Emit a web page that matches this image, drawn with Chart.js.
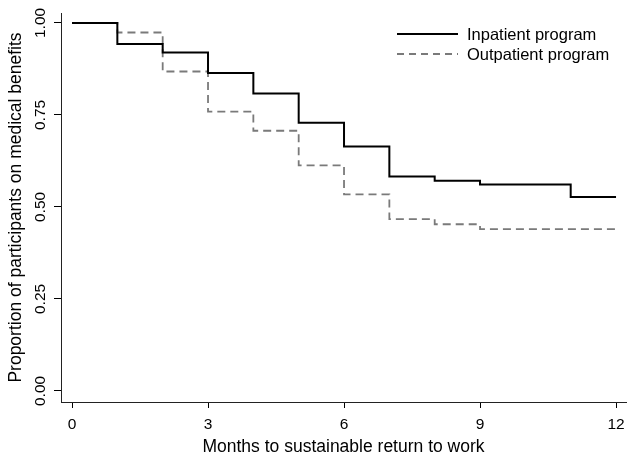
<!DOCTYPE html>
<html><head><meta charset="utf-8">
<script src="https://cdn.jsdelivr.net/npm/chart.js@4/dist/chart.umd.min.js"></script>
<style>html,body{margin:0;padding:0;background:#fff;}#wrap{width:627px;height:460px;}</style>
</head><body><div id="wrap"><canvas id="c" width="627" height="460"></canvas></div>
<script>
// ---- data ----
const inMonths   = [0, 1, 2, 3, 4, 5, 6, 7, 8, 9, 11, 12];
const inpatient  = [1.000, 0.943, 0.920, 0.864, 0.808, 0.729, 0.664, 0.583, 0.571, 0.561, 0.527, 0.527];
const outMonths  = [0, 1, 2, 3, 4, 5, 6, 7, 8, 9, 12];
const outpatient = [1.000, 0.974, 0.868, 0.759, 0.707, 0.613, 0.534, 0.467, 0.453, 0.440, 0.440];
const seriesLabels = ['Inpatient program', 'Outpatient program'];
const xTicks = [0, 3, 6, 9, 12];
const yTicks = [0, 0.25, 0.5, 0.75, 1];
const xTitle = 'Months to sustainable return to work';
const yTitle = 'Proportion of participants on medical benefits';

const FONT = '"Liberation Sans", Arial, Helvetica, sans-serif';
Chart.defaults.font.family = FONT;
Chart.defaults.color = '#000';

const toPts = (xs, ys) => xs.map((x, i) => ({x: x, y: ys[i]}));

const insideLegend = {
  id: 'insideLegend',
  afterDraw(chart) {
    const ctx = chart.ctx;
    chart.data.datasets.forEach((ds, i) => {
      const y = 34 + i * 20;
      ctx.save();
      ctx.strokeStyle = ds.borderColor;
      ctx.lineWidth = ds.borderWidth;
      ctx.setLineDash(ds.legendDash || []);
      ctx.beginPath();
      ctx.moveTo(397, y);
      ctx.lineTo(458, y);
      ctx.stroke();
      ctx.setLineDash([]);
      ctx.fillStyle = '#000';
      ctx.font = '16.5px ' + FONT;
      ctx.textBaseline = 'middle';
      ctx.textAlign = 'left';
      ctx.fillText(ds.label, 467, y + 1);
      ctx.restore();
    });
  }
};

new Chart(document.getElementById('c'), {
  type: 'line',
  data: {
    datasets: [
      {label: seriesLabels[0], data: toPts(inMonths, inpatient), stepped: 'before',
       borderColor: '#000', borderWidth: 2, pointRadius: 0, fill: false, borderCapStyle: 'butt'},
      {label: seriesLabels[1], data: toPts(outMonths, outpatient), stepped: 'before',
       borderColor: '#7a7a7a', borderWidth: 1.8, borderDash: [8, 5], legendDash: [7, 5],
       pointRadius: 0, fill: false, borderCapStyle: 'butt'}
    ]
  },
  options: {
    responsive: false,
    animation: false,
    devicePixelRatio: 1,
    layout: {padding: {top: 13, right: 1, left: 0, bottom: 0}},
    plugins: {legend: {display: false}, tooltip: {enabled: false}},
    scales: {
      x: {
        type: 'linear', min: -0.243, max: 12.22,
        afterBuildTicks: s => { s.ticks = xTicks.map(v => ({value: v})); },
        afterFit: s => { s.height = 58; s.paddingLeft = 0; s.paddingRight = 0; },
        ticks: {font: {size: 15.5}, color: '#000', padding: 7, maxRotation: 0, autoSkip: false,
                callback: v => String(v)},
        grid: {display: true, drawOnChartArea: false, drawTicks: true, tickLength: 6, color: '#000', lineWidth: 1},
        border: {display: true, color: '#222', width: 1},
        title: {display: true, text: xTitle, font: {size: 17.5}, color: '#000', padding: {top: 0, bottom: 2}}
      },
      y: {
        type: 'linear', min: -0.03, max: 1.027,
        afterBuildTicks: s => { s.ticks = yTicks.map(v => ({value: v})); },
        afterFit: s => { s.width = 61; s.paddingTop = 0; s.paddingBottom = 0; },
        ticks: {font: {size: 15.5}, color: '#000', padding: -2, minRotation: 90, maxRotation: 90,
                crossAlign: 'center', autoSkip: false, callback: v => Number(v).toFixed(2)},
        grid: {display: true, drawOnChartArea: false, drawTicks: true, tickLength: 7, color: '#000', lineWidth: 1},
        border: {display: true, color: '#222', width: 1},
        title: {display: true, text: yTitle, font: {size: 17.5}, color: '#000', padding: {top: 5.5, bottom: 0}}
      }
    }
  },
  plugins: [insideLegend]
});
</script>
</body></html>
